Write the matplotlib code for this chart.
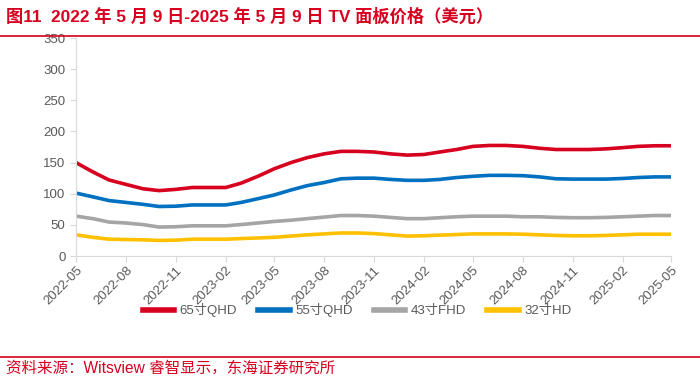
import pandas as pd
import matplotlib
matplotlib.use("Agg")
import matplotlib.pyplot as plt
import matplotlib.dates as mdates
from matplotlib.lines import Line2D

plt.rcParams['font.family'] = ['Liberation Sans', 'Noto Sans CJK SC', 'DejaVu Sans']

dates = pd.date_range('2022-05-01', periods=37, freq='MS')

p65 = [150, 135, 122, 115, 108, 105, 107, 110, 110, 110, 117, 128, 140, 150, 158, 164,
       168, 168, 167, 164, 162, 163, 167, 171, 176, 177.5, 177.5, 176, 173, 171, 171,
       171, 172, 174, 176, 177, 177]
p55 = [101, 95, 89, 86, 83, 79.5, 80, 82, 82, 82, 86, 92, 98, 106, 113, 118,
       124, 125, 125, 123, 121.5, 121.5, 123, 126, 128, 129.5, 129.5, 129, 127, 124, 123.5,
       123.5, 123.5, 124.5, 126, 127, 127]
p43 = [64, 60, 54.5, 53, 50.5, 46.5, 47, 48.5, 48.5, 48.5, 50.5, 53, 55.5, 57.5, 60, 62.5,
       65, 65, 64, 62, 60, 60, 61.5, 63, 64, 64, 64, 63, 63, 62, 61.5,
       61.5, 62, 63, 64, 65, 65]
p32 = [34, 30, 27, 26.5, 26, 25, 25.5, 27, 27, 27, 28, 29, 30, 32, 34, 35.5,
       37, 37, 36, 34, 32, 32.5, 33.5, 34.5, 35.5, 35.5, 35.5, 35, 34, 33, 32.5,
       32.5, 33, 34, 35, 35, 35]

series_names = ['65寸QHD', '55寸QHD', '43寸FHD', '32寸HD']
series_colors = ['#D7001F', '#0070C0', '#A5A5A5', '#FFC000']

title = '图11  2022 年 5 月 9 日-2025 年 5 月 9 日 TV 面板价格（美元）'
source = '资料来源：Witsview 睿智显示，东海证券研究所'

fig = plt.figure(figsize=(7, 3.82), dpi=100)
ax = fig.add_axes([0.1086, 0.3298, 0.85, 0.5707])

for vals, name, col in zip([p65, p55, p43, p32], series_names, series_colors):
    ax.plot(dates, vals, color=col, lw=2.6, label=name, solid_capstyle='round')

ax.set_ylim(0, 350)
ax.set_yticks(range(0, 351, 50))
ax.set_xlim(pd.Timestamp('2022-05-01'), pd.Timestamp('2025-05-01'))
ax.xaxis.set_major_locator(mdates.MonthLocator(bymonth=[2, 5, 8, 11]))
ax.xaxis.set_major_formatter(mdates.DateFormatter('%Y-%m'))
for lbl in ax.get_xticklabels():
    lbl.set_rotation(45)
    lbl.set_ha('right')
    lbl.set_rotation_mode('anchor')

for s in ['top', 'right']:
    ax.spines[s].set_visible(False)
for s in ['left', 'bottom']:
    ax.spines[s].set_color('#D9D9D9')
ax.tick_params(colors='#D9D9D9', labelcolor='#595959', labelsize=9.5, length=4)
ax.tick_params(axis='x', pad=2)

handles = [Line2D([0], [0], color=c, lw=4) for c in series_colors]
fig.legend(handles, series_names, loc='center', bbox_to_anchor=(0.51, 0.188), ncol=4,
           frameon=False, fontsize=9.5, handlelength=2.4, handletextpad=0.4,
           columnspacing=1.6, labelcolor='#595959')

fig.text(0.008, 0.958, title, color='#D7001F', fontsize=12.4, fontweight='bold',
         va='center', ha='left')
fig.add_artist(Line2D([0, 1], [0.907, 0.907], color='#D7001F', lw=1.2))
fig.add_artist(Line2D([0, 1], [0.066, 0.066], color='#D7001F', lw=1.2))
fig.text(0.008, 0.036, source, color='#D7001F', fontsize=11.2, va='center', ha='left')

fig.savefig('out.png', dpi=100)
